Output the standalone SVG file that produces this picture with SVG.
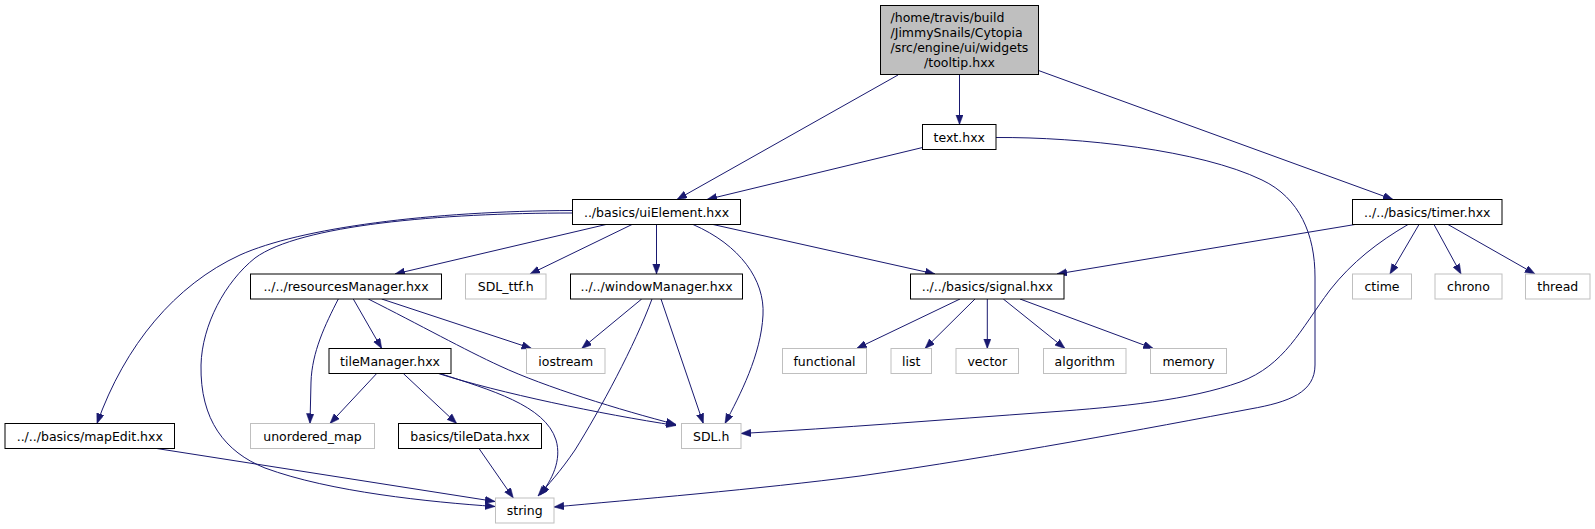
<svg xmlns="http://www.w3.org/2000/svg" width="1595" height="529" viewBox="0 0 1595 529">
<defs>
<style>
.n rect{fill:#ffffff;stroke:#000000;stroke-width:1}
.s rect{fill:#ffffff;stroke:#bfbfbf;stroke-width:1}
.root rect{fill:#bfbfbf;stroke:#000000;stroke-width:1}
text{font-family:"DejaVu Sans","Liberation Sans",sans-serif;font-size:12.5px;fill:#000000}
.c{text-anchor:middle}
#edges path{fill:none;stroke:#191970;stroke-width:1;marker-end:url(#ah)}
</style>
<marker id="ah" markerUnits="userSpaceOnUse" markerWidth="11" markerHeight="8" refX="10" refY="3.75" orient="auto">
<path d="M0,0 L10,3.75 L0,7.5 z" fill="#191970" stroke="#191970" stroke-width="0.5"/>
</marker>
</defs>
<rect width="1595" height="529" fill="#ffffff"/>
<g id="edges">
<path d="M898,75 L677,199.5"/>
<path d="M959.5,75 L959.5,124.5"/>
<path d="M1038.5,70.5 L1393,199.5"/>
<path d="M922.5,147.5 L707,199.5"/>
<path d="M996,137.5 C1080,137 1200,150 1262,180 C1300,198 1315,235 1315,277 L1315,365 C1315,392 1290,402 1250,409 C1150,428 1000,456 860,476 C760,489 630,500 554,507"/>
<path d="M1355,224.5 L1057,274"/>
<path d="M1419,224.5 L1390,274"/>
<path d="M1434,224.5 L1461,274"/>
<path d="M1448,224.5 L1535,274"/>
<path d="M1408,224.5 C1378,242 1352,262 1330,290 C1300,330 1285,365 1240,382 C1190,400 1120,407 1050,412 C940,420 840,428 741,433.5"/>
<path d="M713,224.5 L935,274"/>
<path d="M656.5,224.5 L656.5,274"/>
<path d="M632,224.5 L530,274"/>
<path d="M606,224.5 L395,274"/>
<path d="M693,224.5 C740,245 765,280 763,315 C761,355 740,395 725,423.5"/>
<path d="M572.5,210.5 C430,211 300,228 240,255 C175,285 125,345 97,423.5"/>
<path d="M572.5,213 C440,213 300,225 255,258 C225,282 202,325 201,365 C200,420 225,452 265,468 C330,492 430,502 495,506.5"/>
<path d="M156.7,448.5 L495,501.5"/>
<path d="M641.7,299 L581.7,348.5"/>
<path d="M661,299 L703.3,423.5"/>
<path d="M652,299 C635,345 600,410 575,450 C560,472 548,485 538,496"/>
<path d="M381.7,299 L531.7,348.5"/>
<path d="M368.3,299 C420,325 465,350 500,366 C545,387 620,410 676,424.5"/>
<path d="M353.3,299 L381.7,348.5"/>
<path d="M338.3,299 C325,325 312,352 311,382 L310,423.5"/>
<path d="M376.7,373.5 L330,423.5"/>
<path d="M403.3,373.5 L456.7,423.5"/>
<path d="M438.3,373.5 C500,393 600,414 676,425.5"/>
<path d="M440,373.5 C490,390 545,405 556,440 C562,460 552,480 540,495"/>
<path d="M479,448.5 L513.3,498"/>
<path d="M960,299 L856.7,348.5"/>
<path d="M975,299 L925,348.5"/>
<path d="M987.3,299 L987.3,348.5"/>
<path d="M1003.3,299 L1065,348.5"/>
<path d="M1020,299 L1153.3,348.5"/>
</g>
<g id="tooltip" class="root"><rect x="880.5" y="5.5" width="158" height="69"/>
<text x="890.5" y="22.4">/home/travis/build</text>
<text x="890.5" y="37.1">/JimmySnails/Cytopia</text>
<text x="890.5" y="51.8">/src/engine/ui/widgets</text>
<text class="c" x="959.5" y="66.5">/tooltip.hxx</text></g>
<g id="text_hxx" class="n"><rect x="922.5" y="124.5" width="73.5" height="25"/><text class="c" x="959.25" y="141.5">text.hxx</text></g>
<g id="uiElement" class="n"><rect x="572.5" y="199.5" width="168" height="25"/><text class="c" x="656.5" y="216.5">../basics/uiElement.hxx</text></g>
<g id="timer" class="n"><rect x="1352.5" y="199.5" width="149.5" height="25"/><text class="c" x="1427.25" y="216.5">../../basics/timer.hxx</text></g>
<g id="resourcesManager" class="n"><rect x="250.5" y="274" width="191" height="25"/><text class="c" x="346" y="291">../../resourcesManager.hxx</text></g>
<g id="SDL_ttf" class="s"><rect x="465.5" y="274" width="80.5" height="25"/><text class="c" x="505.75" y="291">SDL_ttf.h</text></g>
<g id="windowManager" class="n"><rect x="570.5" y="274" width="172" height="25"/><text class="c" x="656.5" y="291">../../windowManager.hxx</text></g>
<g id="signal" class="n"><rect x="910.5" y="274" width="153.5" height="25"/><text class="c" x="987.25" y="291">../../basics/signal.hxx</text></g>
<g id="ctime" class="s"><rect x="1352.5" y="274" width="59" height="25"/><text class="c" x="1382" y="291">ctime</text></g>
<g id="chrono" class="s"><rect x="1435" y="274" width="67" height="25"/><text class="c" x="1468.5" y="291">chrono</text></g>
<g id="thread" class="s"><rect x="1525.5" y="274" width="64.5" height="25"/><text class="c" x="1557.75" y="291">thread</text></g>
<g id="tileManager" class="n"><rect x="329" y="348.5" width="122" height="25"/><text class="c" x="390" y="365.5">tileManager.hxx</text></g>
<g id="iostream" class="s"><rect x="526.5" y="348.5" width="78.5" height="25"/><text class="c" x="565.75" y="365.5">iostream</text></g>
<g id="functional" class="s"><rect x="782.5" y="348.5" width="84" height="25"/><text class="c" x="824.5" y="365.5">functional</text></g>
<g id="list" class="s"><rect x="891" y="348.5" width="40.5" height="25"/><text class="c" x="911.25" y="365.5">list</text></g>
<g id="vector" class="s"><rect x="956" y="348.5" width="62.5" height="25"/><text class="c" x="987.25" y="365.5">vector</text></g>
<g id="algorithm" class="s"><rect x="1043.5" y="348.5" width="82.5" height="25"/><text class="c" x="1084.75" y="365.5">algorithm</text></g>
<g id="memory" class="s"><rect x="1150.5" y="348.5" width="76" height="25"/><text class="c" x="1188.5" y="365.5">memory</text></g>
<g id="mapEdit" class="n"><rect x="5" y="423.5" width="169.5" height="25"/><text class="c" x="89.75" y="440.5">../../basics/mapEdit.hxx</text></g>
<g id="unordered_map" class="s"><rect x="250.5" y="423.5" width="124" height="25"/><text class="c" x="312.5" y="440.5">unordered_map</text></g>
<g id="tileData" class="n"><rect x="398.5" y="423.5" width="143" height="25"/><text class="c" x="470" y="440.5">basics/tileData.hxx</text></g>
<g id="SDL_h" class="s"><rect x="681.5" y="423.5" width="59.5" height="25"/><text class="c" x="711.25" y="440.5">SDL.h</text></g>
<g id="string" class="s"><rect x="495.5" y="498" width="58.5" height="25"/><text class="c" x="524.75" y="515">string</text></g>
</svg>
